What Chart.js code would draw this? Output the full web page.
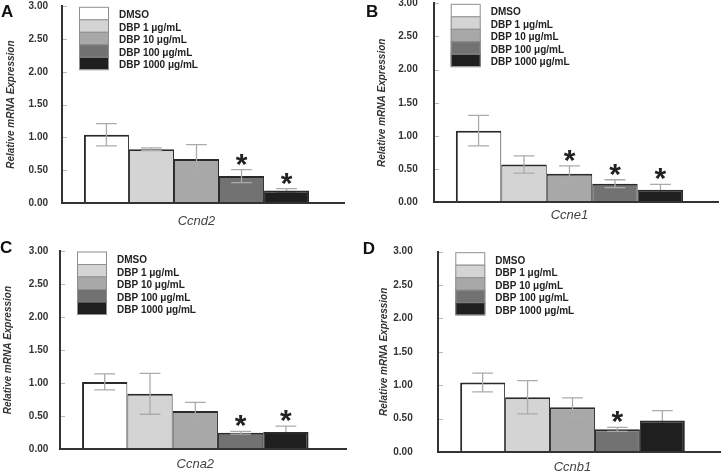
<!DOCTYPE html>
<html><head><meta charset="utf-8">
<script src="https://cdn.jsdelivr.net/npm/chart.js@4"></script>
<style>
html,body{margin:0;padding:0;background:#fff;width:722px;height:472px;overflow:hidden;}
canvas{position:absolute;}
</style></head><body>
<canvas id="cA" width="361" height="236" style="left:0;top:0;width:361px;height:236px"></canvas>
<canvas id="cB" width="361" height="236" style="left:361px;top:0;width:361px;height:236px"></canvas>
<canvas id="cC" width="361" height="236" style="left:0;top:236px;width:361px;height:236px"></canvas>
<canvas id="cD" width="361" height="236" style="left:361px;top:236px;width:361px;height:236px"></canvas>
<script>
// ---- data ----
const treatments = ['DMSO', 'DBP 1 μg/mL', 'DBP 10 μg/mL', 'DBP 100 μg/mL', 'DBP 1000 μg/mL'];
const genes = ['Ccnd2', 'Ccne1', 'Ccna2', 'Ccnb1'];
const panelLetters = ['A', 'B', 'C', 'D'];
const yTickValues = [0, 0.5, 1, 1.5, 2, 2.5, 3];

const ccnd2Mean = [1.04, 0.82, 0.67, 0.41, 0.19];
const ccnd2Err  = [0.17, 0.02, 0.22, 0.10, 0.03];
const ccnd2Sig  = [false, false, false, true, true];

const ccne1Mean = [1.08, 0.57, 0.43, 0.28, 0.19];
const ccne1Err  = [0.23, 0.13, 0.12, 0.06, 0.08];
const ccne1Sig  = [false, false, true, true, true];

const ccna2Mean = [1.02, 0.84, 0.58, 0.25, 0.26];
const ccna2Err  = [0.12, 0.31, 0.13, 0.02, 0.09];
const ccna2Sig  = [false, false, false, true, true];

const ccnb1Mean = [1.04, 0.82, 0.67, 0.34, 0.47];
const ccnb1Err  = [0.14, 0.25, 0.14, 0.03, 0.15];
const ccnb1Sig  = [false, false, false, true, false];

// ---- styles ----
const FONT = '"Liberation Sans", Arial, Helvetica, sans-serif';
const fills = ['#ffffff', '#d4d4d4', '#a8a8a8', '#727272', '#1f1f1f'];
const panelLayouts = [
  {id:'cA', left:62,   top:6.3,  right:331,   bottom:203,   ext:14, tickPad:14,   yTitleX:11.7, xTitleY:221,   letterX:1,   letterY:16.7},
  {id:'cB', left:72.7, top:3.3,  right:344.3, bottom:202.3, ext:14, tickPad:16,   yTitleX:21.7, xTitleY:215.5, letterX:5,   letterY:16.7},
  {id:'cC', left:60,   top:15,   right:330.6, bottom:213.3, ext:16, tickPad:11.7, yTitleX:8.3,  xTitleY:228,   letterX:0,   letterY:16.7},
  {id:'cD', left:77.3, top:15.7, right:345.7, bottom:216,   ext:14, tickPad:25.6, yTitleX:23.3, xTitleY:231,   letterX:1.7, letterY:18.3}
];
const panelData = [
  [ccnd2Mean, ccnd2Err, ccnd2Sig],
  [ccne1Mean, ccne1Err, ccne1Sig],
  [ccna2Mean, ccna2Err, ccna2Sig],
  [ccnb1Mean, ccnb1Err, ccnb1Sig]
];

Chart.defaults.font.family = FONT;
Chart.defaults.color = '#333';

function drawErr(chart, i) {
  const ds = chart.data.datasets[i];
  const el = chart.getDatasetMeta(i).data[0];
  if (!el) return;
  const y = chart.scales.y;
  const m = ds.data[0], e = ds.err[0];
  const top = y.getPixelForValue(m + e), bot = y.getPixelForValue(m - e);
  const half = el.width * 0.23;
  const ctx = chart.ctx;
  ctx.save();
  ctx.strokeStyle = '#ababab';
  ctx.lineWidth = 1.3;
  ctx.beginPath();
  ctx.moveTo(el.x, top); ctx.lineTo(el.x, bot);
  ctx.moveTo(el.x - half, top); ctx.lineTo(el.x + half, top);
  ctx.moveTo(el.x - half, bot); ctx.lineTo(el.x + half, bot);
  ctx.stroke();
  ctx.restore();
}

const decoPlugin = {
  id: 'deco',
  beforeDatasetDraw(chart, args) {
    if (chart.data.datasets[args.index].errBehind) drawErr(chart, args.index);
  },
  afterDatasetDraw(chart, args) {
    if (!chart.data.datasets[args.index].errBehind) drawErr(chart, args.index);
  },
  afterDraw(chart, args, opts) {
    const ctx = chart.ctx, ca = chart.chartArea, L = opts.layout;
    const y = chart.scales.y;
    const ext = Number(L.ext) || 14;
    ctx.save();
    // axes lines
    ctx.fillStyle = '#333';
    const ax = Math.round(ca.left);
    const ay = Math.round(ca.bottom);
    ctx.fillRect(ax - 1, Math.round(ca.top) - 1, 2, ay - Math.round(ca.top) + 2);
    ctx.fillRect(ax - 1, ay - 1, Math.round(ca.right + ext) - ax + 1, 2);
    // inner tick marks
    ctx.fillStyle = '#b8b8b8';
    y.ticks.forEach(t => {
      if (t.value === 0) return;
      const py = Math.round(y.getPixelForValue(t.value));
      ctx.fillRect(ax + 1, py, 4, 1);
    });
    // asterisks
    ctx.fillStyle = '#222';
    ctx.font = 'bold 30px ' + FONT;
    ctx.textAlign = 'center'; ctx.textBaseline = 'alphabetic';
    chart.data.datasets.forEach((ds, i) => {
      if (!ds.sig) return;
      const el = chart.getDatasetMeta(i).data[0];
      const top = y.getPixelForValue(ds.data[0] + ds.err[0]);
      const mm = ctx.measureText('*');
      const desc = mm.actualBoundingBoxDescent || 0;
      ctx.fillText('*', el.x, top - 4 - desc);
    });
    // legend
    const bx = ca.left + 17, by0 = ca.top + 0.5, bw = 30, bh = 12.5;
    ctx.font = 'bold 10px ' + FONT;
    ctx.textAlign = 'left'; ctx.textBaseline = 'middle';
    chart.data.datasets.forEach((ds, i) => {
      const by = by0 + i * bh;
      ctx.fillStyle = ds.backgroundColor;
      ctx.fillRect(bx, by, bw, bh);
      ctx.strokeStyle = '#8f8f8f'; ctx.lineWidth = 1;
      ctx.strokeRect(bx + 0.5, by + 0.5, bw - 1, bh);
      ctx.fillStyle = '#222';
      ctx.fillText(ds.label, bx + 40, by + bh / 2 + 2.5);
    });
    // panel letter
    ctx.font = 'bold 17px ' + FONT;
    ctx.textBaseline = 'alphabetic'; ctx.textAlign = 'left';
    ctx.fillStyle = '#111';
    ctx.fillText(opts.letter, L.letterX, L.letterY);
    ctx.restore();
  }
};

panelLayouts.forEach((L, p) => {
  const [means, errs, sigs] = panelData[p];
  const W = 361, H = 236;
  const titleLH = 13 * 1.2;
  const datasets = treatments.map((t, i) => ({
    label: t,
    data: [means[i]],
    err: [errs[i]],
    sig: sigs[i],
    errBehind: i === treatments.length - 1,
    backgroundColor: fills[i],
    borderColor: '#2a2a2a',
    borderWidth: {top: 2, left: i === 0 ? 2 : 1, right: i === treatments.length - 1 ? 2 : 1, bottom: 0},
    borderSkipped: 'start',
    categoryPercentage: 0.837,
    barPercentage: 1.0
  }));
  new Chart(document.getElementById(L.id), {
    type: 'bar',
    data: { labels: [genes[p]], datasets },
    plugins: [decoPlugin],
    options: {
      responsive: false,
      animation: false,
      events: [],
      layout: { padding: { left: 0, top: L.top, right: W - L.right, bottom: 0 } },
      plugins: {
        legend: { display: false },
        tooltip: { enabled: false },
        deco: { layout: L, letter: panelLetters[p] }
      },
      scales: {
        x: {
          type: 'category',
          grid: { display: false, drawTicks: false },
          border: { display: false },
          ticks: { display: false },
          title: {
            display: true, text: genes[p],
            font: { size: 13, style: 'italic', family: FONT },
            color: '#444',
            padding: { top: 0, bottom: H - L.xTitleY - titleLH / 2 }
          },
          afterFit: s => { s.height = H - L.bottom; }
        },
        y: {
          min: 0, max: 3,
          afterBuildTicks: s => { s.ticks = yTickValues.map(v => ({ value: v })); },
          grid: { display: false, drawTicks: false },
          border: { display: false },
          ticks: {
            padding: L.tickPad,
            font: { size: 10, weight: 'bold', family: FONT },
            color: '#333',
            callback: v => Number(v).toFixed(2)
          },
          title: {
            display: true, text: 'Relative mRNA Expression',
            font: { size: 10, weight: 'bold', style: 'italic', family: FONT },
            color: '#333',
            padding: { top: L.yTitleX - 6, bottom: 0 }
          },
          afterFit: s => { s.width = L.left; s.paddingTop = 0; s.paddingBottom = 0; }
        }
      }
    }
  });
});
</script>
</body></html>
